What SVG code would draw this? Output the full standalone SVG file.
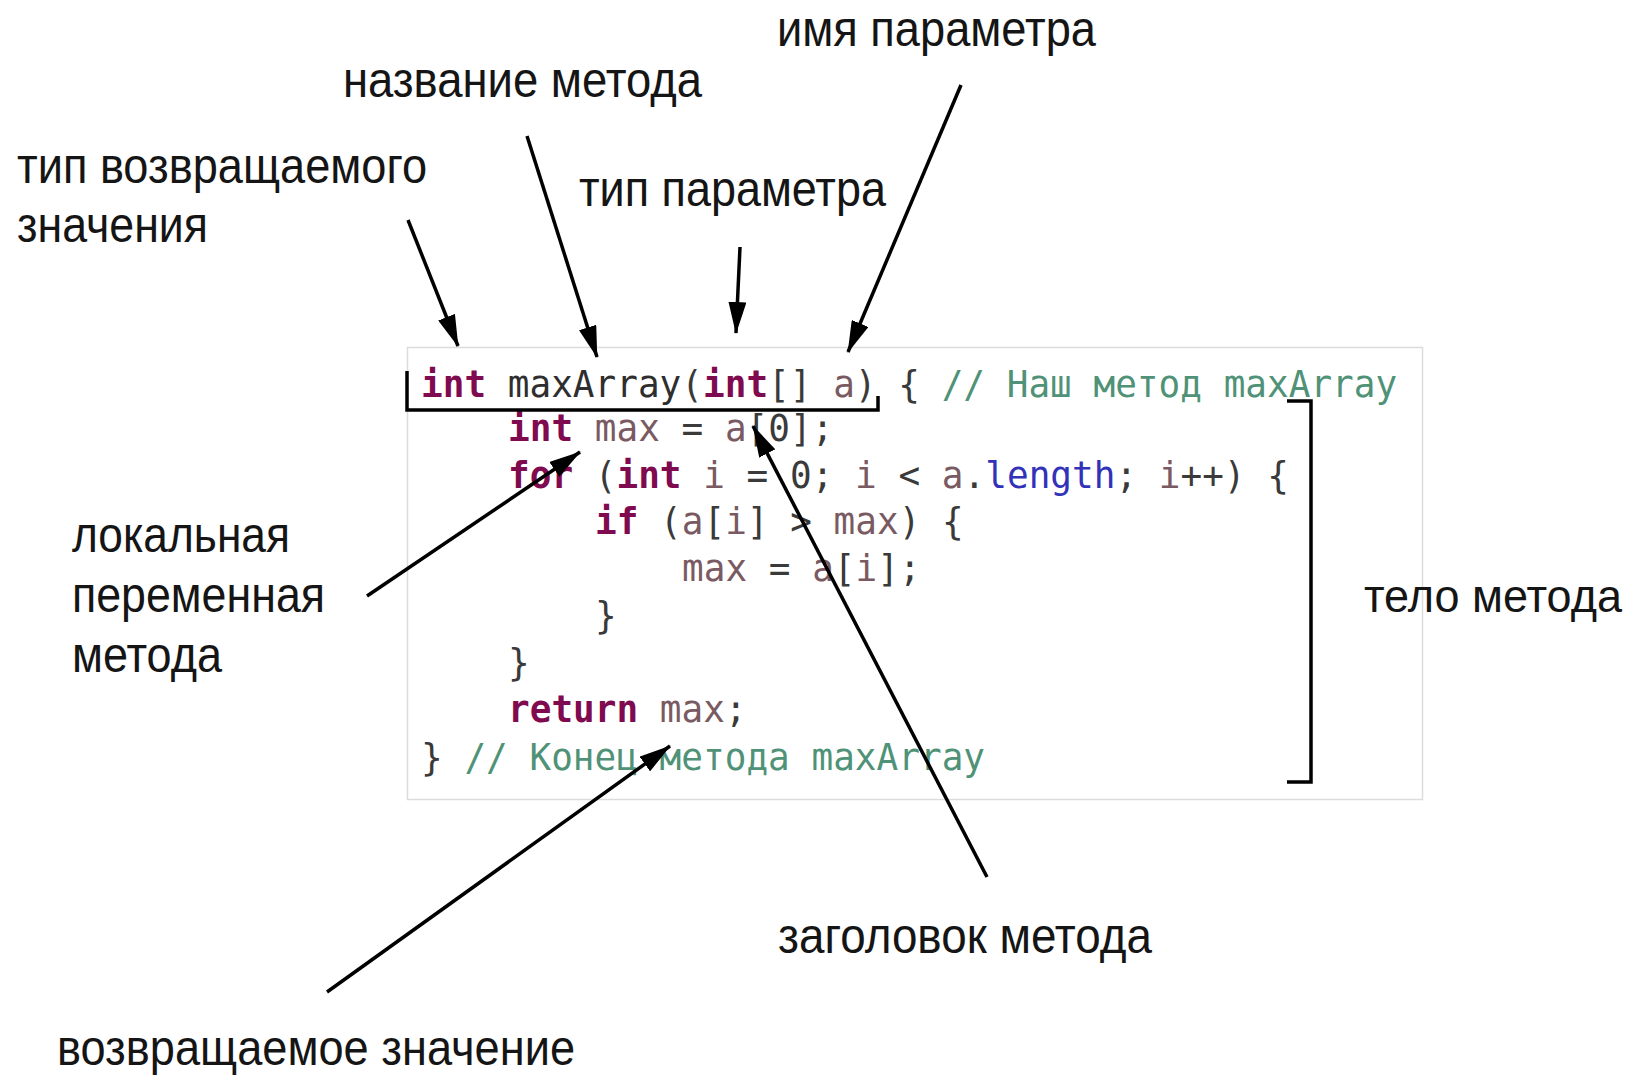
<svg xmlns="http://www.w3.org/2000/svg" width="1635" height="1078" viewBox="0 0 1635 1078">
<style>
.lbl{font-family:"Liberation Sans",Arial,sans-serif;font-size:50px;fill:#151515;}
.code{font-family:"DejaVu Sans Mono","Liberation Mono",monospace;font-size:37px;white-space:pre;fill:#3a3a3a;}
.kw{fill:#7f0a50;font-weight:bold;}
.fn{fill:#2e2e2e;}
.v{fill:#7a5a62;}
.p{fill:#3a3a3a;}
.fd{fill:#3232b8;}
.cm{fill:#4f9277;}
.conn{stroke:#000;stroke-width:3.5;fill:none;}
.brk{stroke:#000;stroke-width:3.5;fill:none;}
</style>
<defs>
<marker id="ah" viewBox="0 0 32 18" refX="31" refY="9" markerWidth="32" markerHeight="18" markerUnits="userSpaceOnUse" orient="auto">
<path d="M0,0 L32,9 L0,18 Z" fill="#000"/>
</marker>
</defs>
<rect width="1635" height="1078" fill="#fff"/>

<g id="code-box">
<rect x="407.5" y="347.5" width="1015" height="452" fill="#fff" stroke="#dcdcdc" stroke-width="1.5"/>
<text class="code" transform="translate(421,397) scale(0.974,1)"><tspan class="kw">int</tspan><tspan class="p"> </tspan><tspan class="fn">maxArray</tspan><tspan class="p">(</tspan><tspan class="kw">int</tspan><tspan class="p">[] </tspan><tspan class="v">a</tspan><tspan class="p">) { </tspan><tspan class="cm">// Наш метод maxArray</tspan></text>
<text class="code" transform="translate(508,441) scale(0.974,1)"><tspan class="kw">int</tspan><tspan class="p"> </tspan><tspan class="v">max</tspan><tspan class="p"> = </tspan><tspan class="v">a</tspan><tspan class="p">[0];</tspan></text>
<text class="code" transform="translate(508,488) scale(0.974,1)"><tspan class="kw">for</tspan><tspan class="p"> (</tspan><tspan class="kw">int</tspan><tspan class="p"> </tspan><tspan class="v">i</tspan><tspan class="p"> = 0; </tspan><tspan class="v">i</tspan><tspan class="p"> &lt; </tspan><tspan class="v">a</tspan><tspan class="p">.</tspan><tspan class="fd">length</tspan><tspan class="p">; </tspan><tspan class="v">i</tspan><tspan class="p">++) {</tspan></text>
<text class="code" transform="translate(595,534) scale(0.974,1)"><tspan class="kw">if</tspan><tspan class="p"> (</tspan><tspan class="v">a</tspan><tspan class="p">[</tspan><tspan class="v">i</tspan><tspan class="p">] &gt; </tspan><tspan class="v">max</tspan><tspan class="p">) {</tspan></text>
<text class="code" transform="translate(682,581) scale(0.974,1)"><tspan class="v">max</tspan><tspan class="p"> = </tspan><tspan class="v">a</tspan><tspan class="p">[</tspan><tspan class="v">i</tspan><tspan class="p">];</tspan></text>
<text class="code" transform="translate(595,628) scale(0.974,1)">}</text>
<text class="code" transform="translate(508,675) scale(0.974,1)">}</text>
<text class="code" transform="translate(508,722) scale(0.974,1)"><tspan class="kw">return</tspan><tspan class="p"> </tspan><tspan class="v">max</tspan><tspan class="p">;</tspan></text>
<text class="code" transform="translate(421,770) scale(0.974,1)"><tspan class="p">} </tspan><tspan class="cm">// Конец метода maxArray</tspan></text>
</g>

<g id="header-bracket">
<path class="brk" d="M407,371 V410 H878 V396"/>
</g>
<g id="body-bracket">
<path class="brk" d="M1287,401 H1311 V782 H1287"/>
</g>

<g id="label-return-type">
<text class="lbl" x="17" y="183" textLength="410" lengthAdjust="spacingAndGlyphs">тип возвращаемого</text>
<text class="lbl" x="17" y="242" textLength="191" lengthAdjust="spacingAndGlyphs">значения</text>
</g>
<g id="label-method-name">
<text class="lbl" x="343" y="97" textLength="359" lengthAdjust="spacingAndGlyphs">название метода</text>
</g>
<g id="label-param-name">
<text class="lbl" x="777" y="46" textLength="319" lengthAdjust="spacingAndGlyphs">имя параметра</text>
</g>
<g id="label-param-type">
<text class="lbl" x="579" y="206" textLength="307" lengthAdjust="spacingAndGlyphs">тип параметра</text>
</g>
<g id="label-local-var">
<text class="lbl" x="72" y="552" textLength="218" lengthAdjust="spacingAndGlyphs">локальная</text>
<text class="lbl" x="72" y="612" textLength="253" lengthAdjust="spacingAndGlyphs">переменная</text>
<text class="lbl" x="72" y="672" textLength="150" lengthAdjust="spacingAndGlyphs">метода</text>
</g>
<g id="label-body">
<text class="lbl" x="1364" y="612" style="font-size:46px" textLength="258" lengthAdjust="spacingAndGlyphs">тело метода</text>
</g>
<g id="label-header">
<text class="lbl" x="778" y="953" textLength="374" lengthAdjust="spacingAndGlyphs">заголовок метода</text>
</g>
<g id="label-return-value">
<text class="lbl" x="57" y="1065" textLength="518" lengthAdjust="spacingAndGlyphs">возвращаемое значение</text>
</g>

<g id="connectors">
<line class="conn" x1="408" y1="220" x2="458" y2="346" marker-end="url(#ah)"/>
<line class="conn" x1="527" y1="136" x2="597" y2="357" marker-end="url(#ah)"/>
<line class="conn" x1="740" y1="247" x2="736" y2="333" marker-end="url(#ah)"/>
<line class="conn" x1="961" y1="85" x2="848" y2="352" marker-end="url(#ah)"/>
<line class="conn" x1="367" y1="596" x2="580" y2="452" marker-end="url(#ah)"/>
<line class="conn" x1="987" y1="877" x2="753" y2="426" marker-end="url(#ah)"/>
<line class="conn" x1="327" y1="992" x2="670" y2="746" marker-end="url(#ah)"/>
</g>
</svg>
